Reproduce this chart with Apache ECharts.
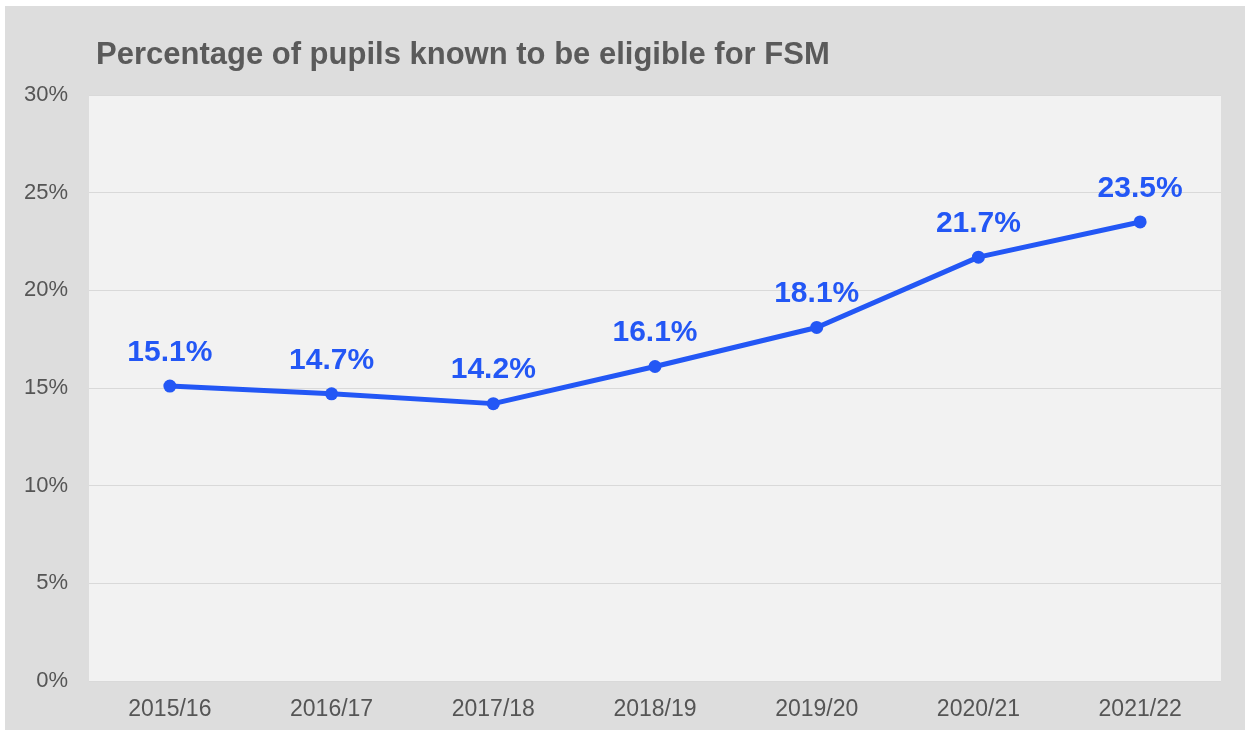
<!DOCTYPE html>
<html>
<head>
<meta charset="utf-8">
<script src="https://cdn.jsdelivr.net/npm/echarts@6/dist/echarts.min.js"></script>
<style>
  html, body { margin: 0; padding: 0; background: #fff; }
  #main { width: 1247px; height: 735px; }
</style>
</head>
<body>
<div id="main"></div>
<script>
const years = ['2015/16', '2016/17', '2017/18', '2018/19', '2019/20', '2020/21', '2021/22']
const fsmPct = [15.1, 14.7, 14.2, 16.1, 18.1, 21.7, 23.5]
const yTicks = [0, 5, 10, 15, 20, 25, 30]

const blue = '#2357f5'
const font = 'Liberation Sans, Arial, sans-serif'

const option = {
  backgroundColor: '#fff',
  animation: false,
  graphic: [
    {
      type: 'rect',
      left: 5, top: 6,
      shape: { width: 1240, height: 724 },
      style: { fill: '#dddddd' },
      z: -10,
    }
  ],
  title: {
    text: 'Percentage of pupils known to be eligible for FSM',
    left: 91,
    top: 35,
    textStyle: {
      fontFamily: font,
      fontSize: 31,
      fontWeight: 'bold',
      color: '#5a5a5a',
    },
  },
  grid: {
    left: 89,
    right: 26,
    top: 95,
    bottom: 54,
    show: true,
    backgroundColor: '#f2f2f2',
    borderWidth: 0,
  },
  xAxis: {
    type: 'category',
    data: years,
    boundaryGap: true,
    axisLine: { show: false },
    axisTick: { show: false },
    axisLabel: {
      margin: 17,
      fontFamily: font,
      fontSize: 23,
      color: '#555',
    },
  },
  yAxis: {
    type: 'value',
    min: yTicks[0],
    max: yTicks[yTicks.length - 1],
    interval: 5,
    axisLine: { show: false },
    axisTick: { show: false },
    splitLine: { lineStyle: { color: '#d9d9d9', width: 1 } },
    axisLabel: {
      margin: 21,
      formatter: '{value}%',
      fontFamily: font,
      fontSize: 22,
      color: '#555',
    },
  },
  series: [
    {
      type: 'line',
      data: fsmPct,
      symbol: 'circle',
      symbolSize: 13,
      itemStyle: { color: blue },
      lineStyle: { color: blue, width: 5 },
      label: {
        show: true,
        position: 'top',
        distance: 12,
        formatter: p => p.value.toFixed(1) + '%',
        fontFamily: font,
        fontSize: 30,
        fontWeight: 'bold',
        color: blue,
      },
    }
  ],
}

const myChart = echarts.init(document.getElementById('main'))
myChart.setOption(option)
</script>
</body>
</html>
